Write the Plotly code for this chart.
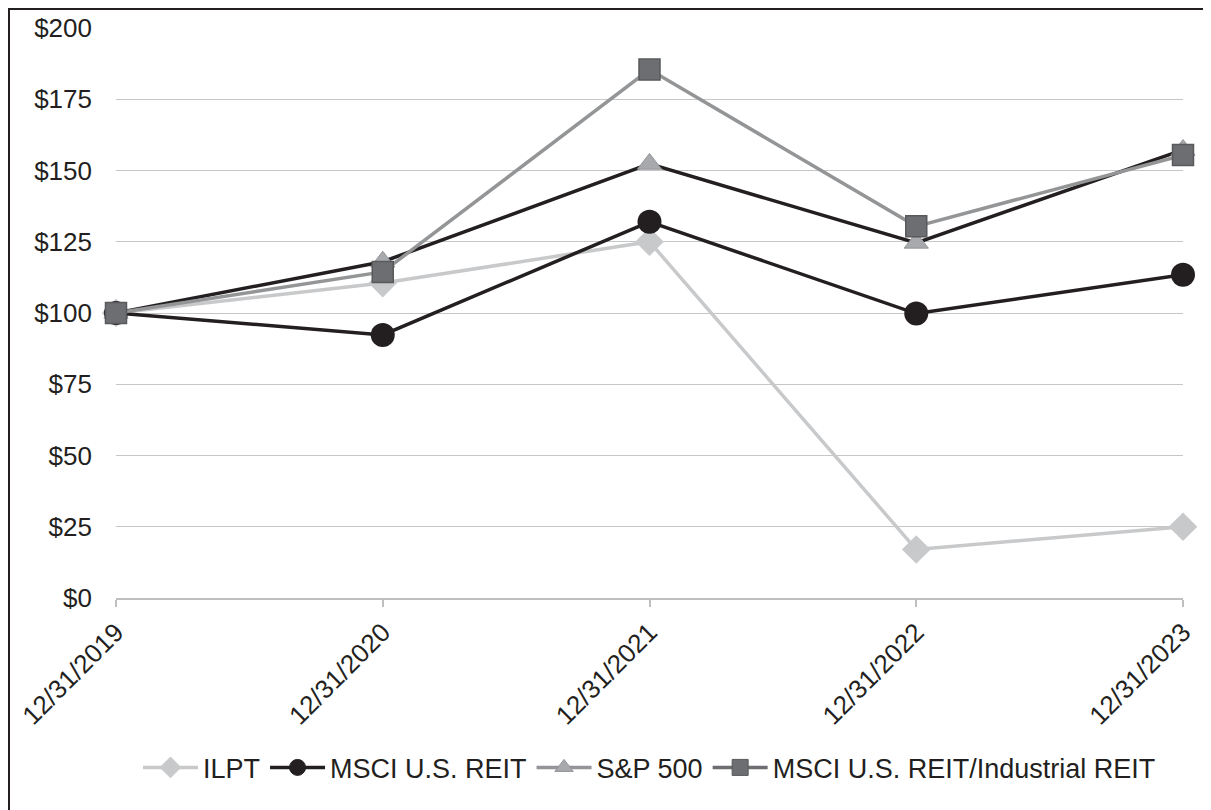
import plotly.graph_objects as go

dates = ["12/31/2019", "12/31/2020", "12/31/2021", "12/31/2022", "12/31/2023"]
ilpt = [100, 110.5, 125, 17, 25]
msci_reit = [100, 92.3, 132, 99.8, 113.4]
sp500 = [100, 118, 152.3, 124.6, 157.2]
msci_ind = [100, 114.4, 185.4, 130.4, 155.4]
yticks = [0, 25, 50, 75, 100, 125, 150, 175, 200]
ytext = ["$" + str(v) for v in yticks]

FONT = "Liberation Sans, Arial, sans-serif"

fig = go.Figure()

# plotted series (legend drawn by separate legend-only entries below)
fig.add_trace(go.Scatter(x=dates, y=ilpt, mode="lines+markers", showlegend=False,
                         line=dict(color="#c8c9cb", width=3.5),
                         marker=dict(symbol="diamond", size=22, color="#c8c9cb"),
                         cliponaxis=False))
fig.add_trace(go.Scatter(x=dates, y=msci_reit, mode="lines+markers", showlegend=False,
                         line=dict(color="#231f20", width=3.5),
                         marker=dict(symbol="circle", size=24, color="#231f20"),
                         cliponaxis=False))
fig.add_trace(go.Scatter(x=dates, y=sp500, mode="lines+markers", showlegend=False,
                         line=dict(color="#231f20", width=3.5),
                         marker=dict(symbol="triangle-up", size=21, color="#a7a9ac",
                                     line=dict(color="#939598", width=1)),
                         cliponaxis=False))
fig.add_trace(go.Scatter(x=dates, y=msci_ind, mode="lines+markers", showlegend=False,
                         line=dict(color="#949597", width=3.5),
                         marker=dict(symbol="square", size=21, color="#6d6e71",
                                     line=dict(color="#58595b", width=1.5)),
                         cliponaxis=False))

# legend entries
legend_items = [
    ("ILPT", "#c8c9cb", "diamond", "#c8c9cb", "#c8c9cb"),
    ("MSCI U.S. REIT", "#231f20", "circle", "#231f20", "#231f20"),
    ("S&P 500", "#939598", "triangle-up", "#a7a9ac", "#939598"),
    ("MSCI U.S. REIT/Industrial REIT", "#6d6e71", "square", "#6d6e71", "#58595b"),
]
for name, lc, sym, mc, mlc in legend_items:
    fig.add_trace(go.Scatter(x=[None], y=[None], mode="lines+markers", name=name,
                             line=dict(color=lc, width=3.5),
                             marker=dict(symbol=sym, size=16, color=mc,
                                         line=dict(color=mlc, width=1))))

PW, PH = 1067, 570
L, T = 108, 20

fig.update_layout(
    width=1211, height=810,
    margin=dict(l=L, r=1211 - L - PW, t=T, b=810 - T - PH),
    paper_bgcolor="white", plot_bgcolor="white",
    font=dict(family=FONT, size=26, color="#231f20"),
    showlegend=True,
    legend=dict(orientation="h", x=0.5, xanchor="center", y=-0.298, yanchor="middle",
                font=dict(family=FONT, size=27, color="#231f20"),
                itemwidth=55, tracegroupgap=0),
    xaxis=dict(type="category", categoryorder="array", categoryarray=dates,
               range=[0, 4], showgrid=False, zeroline=False, automargin=False,
               showline=True, linecolor="#bfbfbf", linewidth=1.5,
               ticks="outside", ticklen=7, tickcolor="#bfbfbf", tickwidth=1.5,
               tickangle=-45, tickfont=dict(family=FONT, size=26, color="#231f20")),
    yaxis=dict(range=[0, 200], tickvals=yticks, ticktext=ytext, automargin=False,
               showgrid=True, gridcolor="#c6c6c6", gridwidth=1.3,
               zeroline=False, showline=False, ticks="",
               ticklabelstandoff=23,
               tickfont=dict(family=FONT, size=26, color="#231f20")),
    shapes=[
        dict(type="line", xref="paper", yref="paper", x0=-0.11, x1=1.2,
             y0=1 + 19 / PH, y1=1 + 19 / PH, line=dict(color="#231f20", width=2)),
        dict(type="line", xref="paper", yref="paper", x0=-107 / PW, x1=-107 / PW,
             y0=1 + 19 / PH, y1=-0.5, line=dict(color="#231f20", width=2)),
    ],
)

fig.write_html("out.html")
